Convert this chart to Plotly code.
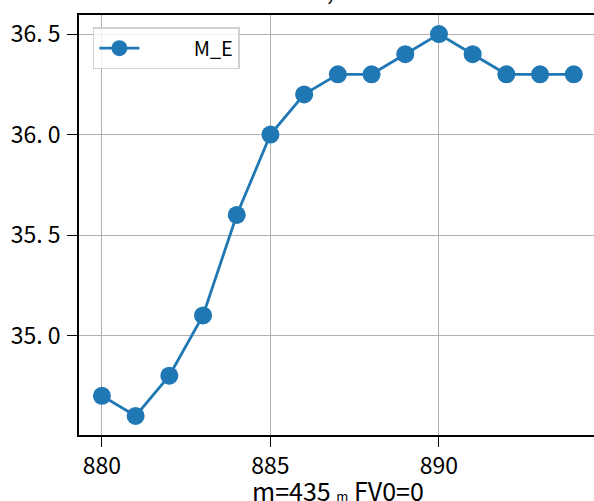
import plotly.graph_objects as go

x_vals = [880, 881, 882, 883, 884, 885, 886, 887, 888, 889, 890, 891, 892, 893, 894]
y_vals = [34.7, 34.6, 34.8, 35.1, 35.6, 36.0, 36.2, 36.3, 36.3, 36.4, 36.5, 36.4, 36.3, 36.3, 36.3]
series_name = "M_E"
x_ticks = [880, 885, 890]
y_ticks = [35.0, 35.5, 36.0, 36.5]
y_tick_text = ["35.\u00a00", "35.\u00a05", "36.\u00a00", "36.\u00a05"]
x_label = "m=435 <span style='font-size:13px'>m</span> FV0=0"
title_text = ","

FONT = "Noto Sans CJK SC"
BLUE = "#1f77b4"
FS = 23

fig = go.Figure()
fig.add_trace(go.Scatter(
    x=x_vals, y=y_vals, mode="lines+markers",
    name="\u00a0" * 11 + series_name,
    line=dict(color=BLUE, width=2.8),
    marker=dict(color=BLUE, size=18),
))

fig.update_layout(
    width=594, height=501,
    margin=dict(l=79, r=0, t=15, b=66),
    paper_bgcolor="white", plot_bgcolor="white",
    font=dict(family=FONT, size=FS, color="black"),
    showlegend=True,
    legend=dict(x=0.027, y=0.971, xanchor="left", yanchor="top",
                bordercolor="#d0d0d0", borderwidth=1.5, bgcolor="rgba(255,255,255,0.8)",
                font=dict(size=20, family=FONT), itemwidth=40,
                tracegroupgap=0),
)
fig.update_xaxes(
    range=[879.32, 894.6], tickvals=x_ticks, ticks="outside", ticklen=10, tickwidth=1.3,
    tickcolor="black", showline=True, linecolor="black", linewidth=1.5, mirror=True,
    showgrid=True, gridcolor="#b0b0b0", gridwidth=1.2, zeroline=False,
    tickfont=dict(size=FS, family=FONT),
)
fig.update_yaxes(
    range=[34.505, 36.595], tickvals=y_ticks, ticktext=y_tick_text, ticks="outside",
    ticklen=10, tickwidth=1.3, tickcolor="black", showline=True, linecolor="black",
    linewidth=1.5, showgrid=True, gridcolor="#b0b0b0", gridwidth=1.2, zeroline=False,
    tickfont=dict(size=FS, family=FONT), ticklabelstandoff=2,
)
fig.add_annotation(text=x_label, xref="paper", yref="paper", x=(338 - 79) / 515, y=-0.083,
                   xanchor="center", yanchor="top", showarrow=False,
                   font=dict(size=25, family=FONT))
fig.add_annotation(text=title_text, xref="paper", yref="paper", x=(330 - 79) / 515,
                   y=(435 - 9) / 420, xanchor="center", yanchor="bottom", showarrow=False,
                   font=dict(size=FS, family=FONT))

fig.write_html("out.html", config={"displayModeBar": False},
               post_script="document.body.style.margin='0';")
